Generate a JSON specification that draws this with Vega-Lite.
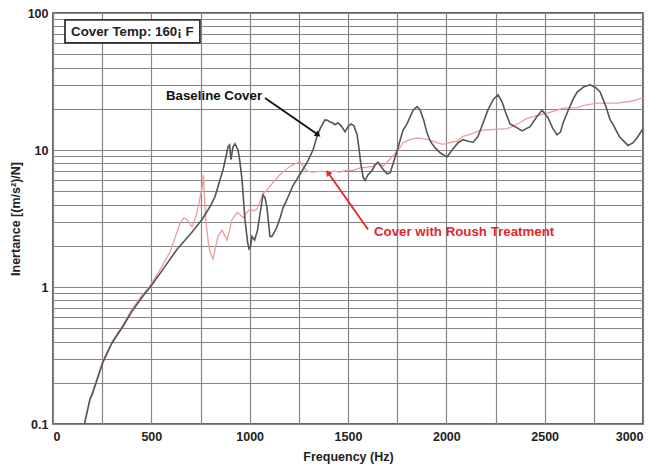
{
  "$schema": "https://vega.github.io/schema/vega-lite/v6.json",
  "width": 590,
  "height": 411,
  "autosize": "none",
  "padding": {"left": 53, "top": 13, "right": 8, "bottom": 43},
  "background": "white",
  "config": {
    "font": "Liberation Sans",
    "view": {"stroke": "#333333", "strokeWidth": 1.5},
    "axis": {
      "labelFont": "Liberation Sans",
      "labelFontWeight": "bold",
      "labelFontSize": 12.5,
      "labelColor": "#222222",
      "titleFont": "Liberation Sans",
      "titleFontWeight": "bold",
      "titleFontSize": 12.5,
      "titleColor": "#222222",
      "gridColor": "#858585",
      "gridWidth": 1.2,
      "gridOpacity": 1,
      "domain": false,
      "ticks": false
    }
  },
  "datasets": {
    "baseline": [
      {"f": 160, "v": 0.1}, {"f": 188, "v": 0.152}, {"f": 200, "v": 0.165}, {"f": 254, "v": 0.283},
      {"f": 300, "v": 0.39}, {"f": 356, "v": 0.517}, {"f": 400, "v": 0.66}, {"f": 450, "v": 0.83},
      {"f": 503, "v": 1.04}, {"f": 560, "v": 1.35}, {"f": 630, "v": 1.88}, {"f": 700, "v": 2.45},
      {"f": 758, "v": 3.11}, {"f": 800, "v": 3.9}, {"f": 824, "v": 4.57}, {"f": 845, "v": 5.8},
      {"f": 865, "v": 7.2}, {"f": 880, "v": 9.0}, {"f": 890, "v": 10.6}, {"f": 898, "v": 10.9},
      {"f": 905, "v": 8.5}, {"f": 915, "v": 10.5}, {"f": 925, "v": 11.1}, {"f": 941, "v": 10.0},
      {"f": 950, "v": 8.3}, {"f": 961, "v": 6.1}, {"f": 976, "v": 3.1}, {"f": 990, "v": 2.1},
      {"f": 997, "v": 1.9}, {"f": 1005, "v": 2.0}, {"f": 1012, "v": 2.34}, {"f": 1025, "v": 2.2},
      {"f": 1040, "v": 2.6}, {"f": 1055, "v": 3.6}, {"f": 1068, "v": 4.7}, {"f": 1078, "v": 4.5},
      {"f": 1088, "v": 3.8}, {"f": 1103, "v": 2.34}, {"f": 1113, "v": 2.34}, {"f": 1125, "v": 2.5},
      {"f": 1139, "v": 2.75}, {"f": 1155, "v": 3.2}, {"f": 1170, "v": 3.8}, {"f": 1185, "v": 4.2},
      {"f": 1205, "v": 4.9}, {"f": 1220, "v": 5.5}, {"f": 1240, "v": 6.1}, {"f": 1265, "v": 7.0},
      {"f": 1292, "v": 8.1}, {"f": 1322, "v": 10.0}, {"f": 1342, "v": 12.5}, {"f": 1360, "v": 14.5},
      {"f": 1383, "v": 16.6}, {"f": 1395, "v": 16.5}, {"f": 1409, "v": 16.0}, {"f": 1420, "v": 15.8},
      {"f": 1434, "v": 15.3}, {"f": 1449, "v": 15.8}, {"f": 1465, "v": 15.0}, {"f": 1485, "v": 13.6},
      {"f": 1500, "v": 14.8}, {"f": 1515, "v": 15.5}, {"f": 1530, "v": 15.0}, {"f": 1546, "v": 13.0},
      {"f": 1555, "v": 10.5}, {"f": 1565, "v": 8.0}, {"f": 1577, "v": 6.3}, {"f": 1587, "v": 6.0},
      {"f": 1602, "v": 6.6}, {"f": 1620, "v": 7.0}, {"f": 1638, "v": 7.8}, {"f": 1653, "v": 8.1},
      {"f": 1673, "v": 7.4}, {"f": 1698, "v": 6.7}, {"f": 1714, "v": 6.8}, {"f": 1730, "v": 8.0},
      {"f": 1749, "v": 9.8}, {"f": 1780, "v": 14.0}, {"f": 1800, "v": 15.5}, {"f": 1831, "v": 19.5},
      {"f": 1851, "v": 20.7}, {"f": 1866, "v": 19.7}, {"f": 1885, "v": 16.5}, {"f": 1902, "v": 13.3},
      {"f": 1920, "v": 11.5}, {"f": 1942, "v": 10.4}, {"f": 1970, "v": 9.5}, {"f": 2004, "v": 8.9},
      {"f": 2034, "v": 10.2}, {"f": 2060, "v": 11.3}, {"f": 2085, "v": 11.9}, {"f": 2110, "v": 11.6},
      {"f": 2136, "v": 11.4}, {"f": 2160, "v": 12.5}, {"f": 2185, "v": 15.5}, {"f": 2212, "v": 19.7},
      {"f": 2240, "v": 23.5}, {"f": 2263, "v": 25.3}, {"f": 2283, "v": 22.5}, {"f": 2300, "v": 19.0},
      {"f": 2324, "v": 15.5}, {"f": 2350, "v": 14.8}, {"f": 2385, "v": 13.8}, {"f": 2426, "v": 14.8},
      {"f": 2460, "v": 17.5}, {"f": 2487, "v": 19.5}, {"f": 2500, "v": 18.5}, {"f": 2517, "v": 17.2},
      {"f": 2540, "v": 14.5}, {"f": 2563, "v": 12.9}, {"f": 2580, "v": 13.5}, {"f": 2594, "v": 15.8},
      {"f": 2620, "v": 19.5}, {"f": 2645, "v": 23.5}, {"f": 2665, "v": 26.5}, {"f": 2700, "v": 29.0},
      {"f": 2731, "v": 29.9}, {"f": 2760, "v": 28.5}, {"f": 2782, "v": 26.5}, {"f": 2810, "v": 21.0},
      {"f": 2833, "v": 16.6}, {"f": 2848, "v": 15.3}, {"f": 2880, "v": 12.5}, {"f": 2924, "v": 10.8},
      {"f": 2950, "v": 11.3}, {"f": 2970, "v": 12.3}, {"f": 3000, "v": 14.3}
    ],
    "roush": [
      {"f": 160, "v": 0.1}, {"f": 190, "v": 0.155}, {"f": 254, "v": 0.29}, {"f": 300, "v": 0.4},
      {"f": 356, "v": 0.53}, {"f": 400, "v": 0.68}, {"f": 450, "v": 0.86}, {"f": 493, "v": 1.02},
      {"f": 540, "v": 1.3}, {"f": 595, "v": 1.8}, {"f": 646, "v": 2.9}, {"f": 665, "v": 3.2},
      {"f": 681, "v": 3.1}, {"f": 695, "v": 2.9}, {"f": 707, "v": 2.75}, {"f": 720, "v": 3.1},
      {"f": 732, "v": 3.5}, {"f": 748, "v": 4.5}, {"f": 758, "v": 5.3}, {"f": 765, "v": 6.6},
      {"f": 770, "v": 4.5}, {"f": 778, "v": 3.0}, {"f": 790, "v": 2.1}, {"f": 798, "v": 1.8},
      {"f": 814, "v": 1.6}, {"f": 828, "v": 2.0}, {"f": 839, "v": 2.34}, {"f": 859, "v": 2.6},
      {"f": 872, "v": 2.4}, {"f": 885, "v": 2.2}, {"f": 898, "v": 2.6}, {"f": 910, "v": 3.1},
      {"f": 936, "v": 3.5}, {"f": 950, "v": 3.4}, {"f": 966, "v": 3.2}, {"f": 985, "v": 3.5},
      {"f": 1002, "v": 3.7}, {"f": 1020, "v": 3.6}, {"f": 1037, "v": 3.7}, {"f": 1055, "v": 4.3},
      {"f": 1068, "v": 4.8}, {"f": 1088, "v": 5.1}, {"f": 1119, "v": 5.8}, {"f": 1154, "v": 6.6},
      {"f": 1180, "v": 7.1}, {"f": 1205, "v": 7.6}, {"f": 1230, "v": 7.9}, {"f": 1256, "v": 8.2},
      {"f": 1275, "v": 7.5}, {"f": 1292, "v": 7.0}, {"f": 1322, "v": 6.9}, {"f": 1360, "v": 7.0},
      {"f": 1393, "v": 6.9}, {"f": 1430, "v": 7.0}, {"f": 1459, "v": 6.9}, {"f": 1490, "v": 7.1},
      {"f": 1526, "v": 7.1}, {"f": 1560, "v": 7.4}, {"f": 1597, "v": 7.5}, {"f": 1627, "v": 7.6},
      {"f": 1653, "v": 8.2}, {"f": 1678, "v": 7.6}, {"f": 1714, "v": 8.6}, {"f": 1749, "v": 9.7},
      {"f": 1780, "v": 11.3}, {"f": 1815, "v": 11.9}, {"f": 1850, "v": 12.2}, {"f": 1882, "v": 12.1},
      {"f": 1917, "v": 11.8}, {"f": 1950, "v": 11.3}, {"f": 1983, "v": 11.0}, {"f": 2004, "v": 11.2},
      {"f": 2054, "v": 11.6}, {"f": 2085, "v": 12.6}, {"f": 2120, "v": 13.0}, {"f": 2171, "v": 13.9},
      {"f": 2220, "v": 14.1}, {"f": 2273, "v": 14.2}, {"f": 2309, "v": 14.3}, {"f": 2339, "v": 14.9},
      {"f": 2380, "v": 16.0}, {"f": 2410, "v": 17.0}, {"f": 2461, "v": 17.8}, {"f": 2512, "v": 18.6},
      {"f": 2560, "v": 19.5}, {"f": 2594, "v": 20.2}, {"f": 2629, "v": 20.3}, {"f": 2665, "v": 20.4},
      {"f": 2700, "v": 21.2}, {"f": 2767, "v": 22.0}, {"f": 2820, "v": 22.0}, {"f": 2868, "v": 22.0},
      {"f": 2934, "v": 22.6}, {"f": 2970, "v": 23.3}, {"f": 3000, "v": 24.0}
    ],
    "box": [{"f1": 61, "f2": 747, "v1": 60.5, "v2": 89}],
    "labels": [
      {"f": 92, "v": 72.7, "text": "Cover Temp: 160¡ F", "kind": "box", "align": "left"},
      {"f": 1063, "v": 24.9, "text": "Baseline Cover", "kind": "base", "align": "right"},
      {"f": 1632, "v": 2.5, "text": "Cover with Roush Treatment", "kind": "roush", "align": "left"}
    ],
    "arrows": [
      {"f1": 1078, "v1": 24.0, "f2": 1348, "v2": 12.9, "kind": "base", "angle": 125},
      {"f1": 1602, "v1": 2.63, "f2": 1398, "v2": 6.84, "kind": "roush", "angle": 325}
    ]
  },
  "layer": [
    {
      "data": {"name": "roush"},
      "mark": {"type": "line", "color": "#ee9c9c", "strokeWidth": 1.3, "clip": true},
      "encoding": {
        "x": {
          "field": "f", "type": "quantitative",
          "scale": {"domain": [0, 3000], "nice": false},
          "axis": {
            "title": "Frequency (Hz)",
            "values": [0, 250, 500, 750, 1000, 1250, 1500, 1750, 2000, 2250, 2500, 2750, 3000],
            "format": "d",
            "labelExpr": "datum.value % 500 == 0 ? datum.label : ''",
            "labelFlush": true,
            "labelPadding": 6,
            "titlePadding": 8,
            "grid": true
          }
        },
        "y": {
          "field": "v", "type": "quantitative",
          "scale": {"type": "log", "domain": [0.1, 100], "nice": false},
          "axis": {
            "title": "Inertance [(m/s²)/N]",
            "values": [0.1, 0.2, 0.3, 0.4, 0.5, 0.6, 0.7, 0.8, 0.9, 1, 2, 3, 4, 5, 6, 7, 8, 9, 10, 20, 30, 40, 50, 60, 70, 80, 90, 100],
            "labelExpr": "(datum.value == 0.1 || datum.value == 1 || datum.value == 10 || datum.value == 100) ? datum.label : ''",
            "labelPadding": 5,
            "titlePadding": 5,
            "grid": true
          }
        }
      }
    },
    {
      "data": {"name": "baseline"},
      "mark": {"type": "line", "color": "#555555", "strokeWidth": 1.6, "clip": true},
      "encoding": {
        "x": {"field": "f", "type": "quantitative"},
        "y": {"field": "v", "type": "quantitative"}
      }
    },
    {
      "data": {"name": "box"},
      "mark": {"type": "rect", "fill": "white", "stroke": "#333333", "strokeWidth": 1.8},
      "encoding": {
        "x": {"field": "f1", "type": "quantitative"},
        "x2": {"field": "f2"},
        "y": {"field": "v1", "type": "quantitative"},
        "y2": {"field": "v2"}
      }
    },
    {
      "data": {"name": "arrows"},
      "mark": {"type": "rule", "strokeWidth": 1.8},
      "encoding": {
        "x": {"field": "f1", "type": "quantitative"},
        "x2": {"field": "f2"},
        "y": {"field": "v1", "type": "quantitative"},
        "y2": {"field": "v2"},
        "color": {"field": "kind", "type": "nominal", "scale": {"domain": ["base", "roush", "box"], "range": ["#111111", "#e3262b", "#222222"]}, "legend": null}
      }
    },
    {
      "data": {"name": "arrows"},
      "mark": {"type": "point", "shape": "triangle-up", "filled": true, "size": 45, "opacity": 1},
      "encoding": {
        "x": {"field": "f2", "type": "quantitative"},
        "y": {"field": "v2", "type": "quantitative"},
        "angle": {"field": "angle", "type": "quantitative", "scale": null},
        "color": {"field": "kind", "type": "nominal", "legend": null}
      }
    },
    {
      "data": {"name": "labels"},
      "transform": [{"filter": "datum.align == 'left'"}],
      "mark": {"type": "text", "align": "left", "baseline": "middle", "fontWeight": "bold", "fontSize": 13.3, "font": "Liberation Sans"},
      "encoding": {
        "x": {"field": "f", "type": "quantitative"},
        "y": {"field": "v", "type": "quantitative"},
        "text": {"field": "text"},
        "color": {"field": "kind", "type": "nominal", "legend": null}
      }
    },
    {
      "data": {"name": "labels"},
      "transform": [{"filter": "datum.align == 'right'"}],
      "mark": {"type": "text", "align": "right", "baseline": "middle", "fontWeight": "bold", "fontSize": 13.3, "font": "Liberation Sans"},
      "encoding": {
        "x": {"field": "f", "type": "quantitative"},
        "y": {"field": "v", "type": "quantitative"},
        "text": {"field": "text"},
        "color": {"field": "kind", "type": "nominal", "legend": null}
      }
    }
  ]
}
